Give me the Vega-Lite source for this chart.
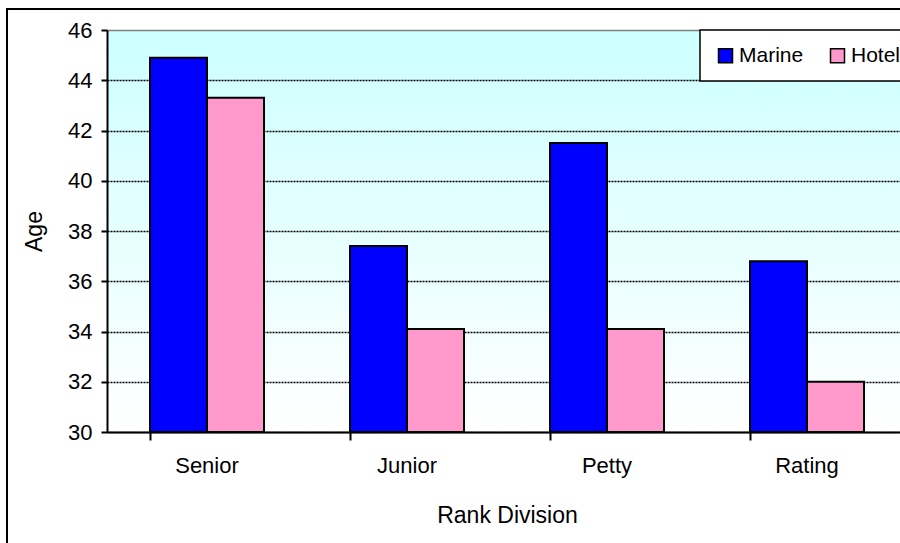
{
  "$schema": "https://vega.github.io/schema/vega-lite/v6.json",
  "width": 793,
  "height": 402,
  "autosize": {"type": "none"},
  "padding": {"left": 107, "top": 30, "right": 0, "bottom": 111},
  "background": "white",
  "config": {
    "font": "Liberation Sans",
    "view": {
      "stroke": null,
      "fill": {
        "gradient": "linear",
        "x1": 0, "y1": 0, "x2": 0, "y2": 1,
        "stops": [
          {"offset": 0, "color": "#ccffff"},
          {"offset": 1, "color": "#ffffff"}
        ]
      }
    },
    "axis": {
      "domainColor": "black",
      "domainWidth": 2,
      "tickColor": "black",
      "tickWidth": 2,
      "labelColor": "black",
      "titleColor": "black",
      "labelFontSize": 22,
      "titleFontSize": 23,
      "titleFontWeight": "normal"
    },
    "legend": {
      "orient": "none",
      "legendX": 593,
      "legendY": 0,
      "direction": "horizontal",
      "fillColor": "white",
      "strokeColor": "black",
      "strokeWidth": 1.5,
      "padding": 15,
      "symbolType": "square",
      "symbolSize": 196,
      "symbolStrokeColor": "black",
      "symbolStrokeWidth": 1.5,
      "labelFontSize": 21,
      "labelColor": "black",
      "labelOffset": 3,
      "columnPadding": 23
    }
  },
  "resolve": {"scale": {"x": "independent", "y": "independent"}},
  "layer": [
    {
      "description": "Outer chart-area border",
      "data": {"values": [{}]},
      "mark": {"type": "rect", "filled": false, "color": "black", "strokeWidth": 2},
      "encoding": {
        "x": {"datum": 0, "type": "quantitative", "scale": {"domain": [0, 1], "range": [-100, 900]}, "axis": null},
        "x2": {"datum": 1},
        "y": {"datum": 0, "type": "quantitative", "scale": {"domain": [0, 1], "range": [-21, 600]}, "axis": null},
        "y2": {"datum": 1}
      }
    },
    {
      "data": {
        "values": [
          {"rank": "Senior", "crew": "Marine", "age": 44.9},
          {"rank": "Senior", "crew": "Hotel", "age": 43.3},
          {"rank": "Junior", "crew": "Marine", "age": 37.4},
          {"rank": "Junior", "crew": "Hotel", "age": 34.1},
          {"rank": "Petty", "crew": "Marine", "age": 41.5},
          {"rank": "Petty", "crew": "Hotel", "age": 34.1},
          {"rank": "Rating", "crew": "Marine", "age": 36.8},
          {"rank": "Rating", "crew": "Hotel", "age": 32.0}
        ]
      },
      "mark": {"type": "bar", "stroke": "black", "strokeWidth": 2},
      "encoding": {
        "x": {
          "field": "rank",
          "type": "nominal",
          "sort": ["Senior", "Junior", "Petty", "Rating"],
          "scale": {"range": [0, 800], "paddingInner": 0.43, "paddingOuter": 0.215},
          "axis": {
            "title": "Rank Division",
            "labelAngle": 0,
            "bandPosition": 0,
            "tickSize": 8,
            "labelPadding": 15,
            "titlePadding": 28,
            "grid": false
          }
        },
        "xOffset": {
          "field": "crew",
          "type": "nominal",
          "sort": ["Marine", "Hotel"],
          "scale": {"paddingInner": 0, "paddingOuter": 0}
        },
        "y": {
          "field": "age",
          "type": "quantitative",
          "scale": {"domain": [30, 46], "zero": false, "nice": false},
          "axis": {
            "title": "Age",
            "values": [30, 32, 34, 36, 38, 40, 42, 44, 46],
            "tickSize": 6,
            "labelPadding": 9,
            "titlePadding": 21,
            "grid": true,
            "gridColor": {"condition": {"test": "datum.value === 46", "value": "#808080"}, "value": "black"},
            "gridDash": {"condition": {"test": "datum.value === 46", "value": []}, "value": [2, 1]},
            "gridWidth": 1.5
          }
        },
        "y2": {"datum": 30},
        "color": {
          "field": "crew",
          "type": "nominal",
          "sort": ["Marine", "Hotel"],
          "scale": {"domain": ["Marine", "Hotel"], "range": ["#0000ff", "#ff99cc"]},
          "legend": {"title": null}
        }
      }
    }
  ]
}
